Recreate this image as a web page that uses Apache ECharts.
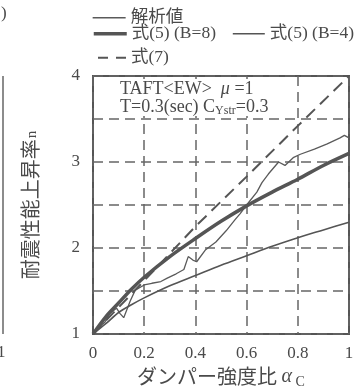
<!DOCTYPE html>
<html>
<head>
<meta charset="utf-8">
<script src="https://cdn.jsdelivr.net/npm/echarts@6/dist/echarts.min.js"></script>
<style>
html,body{margin:0;padding:0;background:#fff;}
#c{width:362px;height:389px;}
</style>
</head>
<body>
<div id="c"></div>
<script>
// ---- data ----
const xTicks = [0, 0.2, 0.4, 0.6, 0.8, 1];
const yTickLabels = ['1', '2', '3', '4'];

const alphaAnalysis = [0, 0.02, 0.047, 0.066, 0.092, 0.105, 0.12, 0.145, 0.165, 0.2, 0.23, 0.265, 0.29, 0.325, 0.355, 0.372, 0.39, 0.405, 0.44, 0.48, 0.52, 0.555, 0.575, 0.6, 0.64, 0.66, 0.685, 0.725, 0.75, 0.782, 0.81, 0.865, 0.915, 0.965, 0.982, 1.0];
const nAnalysis     = [1.0, 1.07, 1.14, 1.24, 1.30, 1.24, 1.19, 1.38, 1.51, 1.57, 1.59, 1.61, 1.65, 1.70, 1.75, 1.90, 1.86, 1.84, 1.98, 2.07, 2.20, 2.33, 2.40, 2.50, 2.65, 2.76, 2.86, 3.00, 2.96, 3.05, 3.09, 3.15, 3.21, 3.28, 3.31, 3.28];

const alphaEq5 = [0, 0.05, 0.1, 0.15, 0.2, 0.3, 0.4, 0.5, 0.6, 0.7, 0.8, 0.9, 1.0];
const nEq5B8   = [1, 1.20, 1.36, 1.52, 1.66, 1.90, 2.11, 2.31, 2.49, 2.65, 2.80, 2.96, 3.10];
const nEq5B4   = [1, 1.12, 1.25, 1.34, 1.42, 1.56, 1.68, 1.80, 1.91, 2.02, 2.12, 2.21, 2.30];

const alphaEq7 = [0, 0.2, 0.4, 0.6, 0.8, 1.0];
const nEq7     = [1, 1.62, 2.25, 2.83, 3.42, 4.0];

const names = ['解析値', '式(5) (B=8)', '式(5) (B=4)', '式(7)'];

// ---- build ----
const pairs = (xs, ys) => xs.map((x, i) => [x, ys[i]]);
const SERIF = '"Liberation Serif","Noto Sans CJK JP",serif';
const CJK = '"Noto Sans CJK JP","Liberation Serif",sans-serif';
const INK = '#4a4a4a';
const LINE = '#555';

const styles = [
  {color: '#5a5a5a', width: 1.3, type: 'solid'},
  {color: LINE, width: 3.5, type: 'solid'},
  {color: LINE, width: 1.6, type: 'solid'},
  {color: LINE, width: 2, type: [10, 8]}
];

const legendText = {fontSize: 17.5, fontFamily: SERIF, color: INK};
const mkLegend = (i, left, top, w) => ({
  data: [names[i]], left: left, top: top, itemWidth: w, itemHeight: 14, padding: 0,
  textStyle: legendText,
  itemStyle: {color: 'transparent', borderWidth: 0, opacity: 0},
  lineStyle: {color: styles[i].color, width: styles[i].width, type: styles[i].type}
});

const chart = echarts.init(document.getElementById('c'), null, {renderer: 'canvas'});
chart.setOption({
  backgroundColor: '#fff',
  animation: false,
  legend: [
    mkLegend(0, 92, 9, 33),
    mkLegend(1, 92, 25, 33),
    mkLegend(2, 232, 25, 32),
    mkLegend(3, 97, 49, 28)
  ],
  grid: {left: 93, right: 13, top: 76, bottom: 55, outerBoundsMode: 'none', containLabel: false,
    show: true, borderColor: '#555', borderWidth: 2, backgroundColor: 'transparent'},
  xAxis: {
    type: 'value', min: 0, max: 1, interval: 0.2,
    axisLine: {show: false}, axisTick: {show: false},
    axisLabel: {fontSize: 17, fontFamily: SERIF, color: INK, margin: 11,
      formatter: v => { const i = xTicks.findIndex(t => Math.abs(t - v) < 1e-9); return i >= 0 ? String(xTicks[i]) : ''; }},
    splitLine: {show: true, lineStyle: {color: '#666', width: 1.5, type: [10, 6]}},
    name: '{a|ダンパー強度比 }{b|α}{c| C}',
    nameLocation: 'middle', nameGap: 30,
    nameTextStyle: {rich: {
      a: {fontSize: 20, fontFamily: CJK, color: INK},
      b: {fontSize: 20, fontFamily: SERIF, fontStyle: 'italic', color: INK},
      c: {fontSize: 14, fontFamily: SERIF, color: INK, padding: [10, 0, 0, 0]}
    }}
  },
  yAxis: {
    type: 'value', min: 1, max: 4, interval: 0.5,
    axisLine: {show: false}, axisTick: {show: false},
    axisLabel: {fontSize: 17, fontFamily: SERIF, color: INK, margin: 13,
      formatter: v => { const i = yTickLabels.indexOf(String(v)); return i >= 0 ? yTickLabels[i] : ''; }},
    splitLine: {show: true, lineStyle: {color: '#666', width: 1.5, type: [10, 6]}},
    name: '{a|耐震性能上昇率}{b|n}',
    nameLocation: 'middle', nameGap: 53, nameRotate: 90,
    nameTextStyle: {rich: {
      a: {fontSize: 20, fontFamily: CJK, color: INK},
      b: {fontSize: 15, fontFamily: SERIF, color: INK, padding: [5, 0, 0, 1]}
    }}
  },
  series: [0, 1, 2, 3].map(i => ({
    name: names[i], type: 'line', symbol: 'none',
    smooth: (i === 1 || i === 2) ? 0.3 : false,
    data: i === 0 ? pairs(alphaAnalysis, nAnalysis)
        : i === 1 ? pairs(alphaEq5, nEq5B8)
        : i === 2 ? pairs(alphaEq5, nEq5B4)
        : pairs(alphaEq7, nEq7),
    lineStyle: {color: styles[i].color, width: styles[i].width, type: i === 3 ? [12, 7] : styles[i].type},
    itemStyle: {color: styles[i].color},
    z: i === 1 ? 4 : 3
  })),
  graphic: [
    {type: 'rect', z: 10, shape: {x: 95, y: 79, width: 170, height: 37}, style: {fill: '#fff'}},
    {type: 'text', z: 11, left: 120, top: 80, style: {
      text: '{r|TAFT<EW>  }{i|μ}{r| =1}', font: '18px ' + SERIF,
      rich: {r: {fontSize: 18, fontFamily: SERIF, fill: INK}, i: {fontSize: 18, fontFamily: SERIF, fontStyle: 'italic', fill: INK}}
    }},
    {type: 'text', z: 11, left: 120, top: 98, style: {
      text: '{r|T=0.3(sec) C}{s|Ystr}{r|=0.3}', font: '18px ' + SERIF,
      rich: {r: {fontSize: 18, fontFamily: SERIF, fill: INK}, s: {fontSize: 12, fontFamily: SERIF, fill: INK, padding: [7, 0, 0, 0]}}
    }},
    // neighbouring figure, cut off at the left edge of the picture
    {type: 'line', z: 1, shape: {x1: 3, y1: 76, x2: 3, y2: 334}, style: {stroke: '#666', lineWidth: 1.5}},
    {type: 'text', z: 1, left: -3, top: 344, style: {text: '1', font: '17px ' + SERIF, fill: INK}},
    {type: 'text', z: 1, left: 1, top: 5, style: {text: ')', font: '17px ' + SERIF, fill: INK}}
  ]
});
</script>
</body>
</html>
